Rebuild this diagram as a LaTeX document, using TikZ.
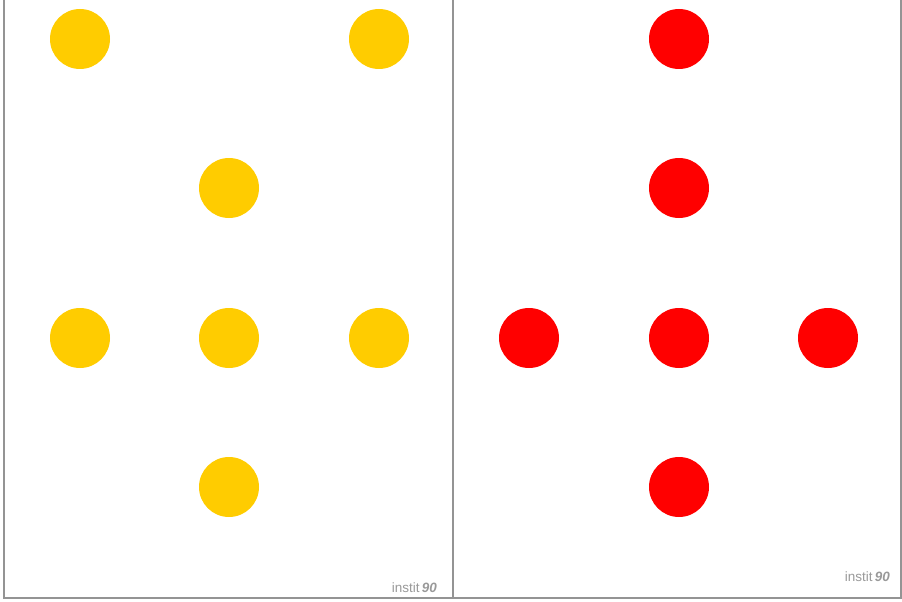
\documentclass[tikz,border=0pt]{standalone}
\usepackage{fontspec}
\setmainfont{Liberation Sans}
\begin{document}
\begin{tikzpicture}[x=1pt,y=-1pt,
  frame/.style={draw=black!42,line width=1.6pt},
  ydot/.style={circle,fill={rgb,255:red,255;green,204;blue,0},minimum size=60pt,inner sep=0pt},
  rdot/.style={circle,fill={rgb,255:red,255;green,0;blue,0},minimum size=60pt,inner sep=0pt},
  mark90/.style={text=black!40,font=\fontsize{13.5}{13.5}\selectfont,inner sep=0pt,anchor=base east}]
\useasboundingbox (0,0) rectangle (902,602);
\coordinate (tl) at (4,0);
\coordinate (bl) at (4,598);
\coordinate (tm) at (453,0);
\coordinate (bm) at (453,598);
\coordinate (tr) at (901,0);
\coordinate (br) at (901,598);
\draw[frame] (tl) -- (bl) -- (br) -- (tr);
\draw[frame] (tm) -- (bm);
% left panel
\node[ydot] (y1) at (80,39) {};
\node[ydot] (y2) at (379,39) {};
\node[ydot] (y3) at (229,188) {};
\node[ydot] (y4) at (80,338) {};
\node[ydot] (y5) at (229,338) {};
\node[ydot] (y6) at (379,338) {};
\node[ydot] (y7) at (229,487) {};
% right panel
\node[rdot] (r1) at (679,39) {};
\node[rdot] (r2) at (679,188) {};
\node[rdot] (r3) at (529,338) {};
\node[rdot] (r4) at (679,338) {};
\node[rdot] (r5) at (828,338) {};
\node[rdot] (r6) at (679,487) {};
% watermarks
\node[mark90] (w1) at (437,592) {instit\,\textbf{\textit{90}}};
\node[mark90] (w2) at (890,581) {instit\,\textbf{\textit{90}}};
\end{tikzpicture}
\end{document}
